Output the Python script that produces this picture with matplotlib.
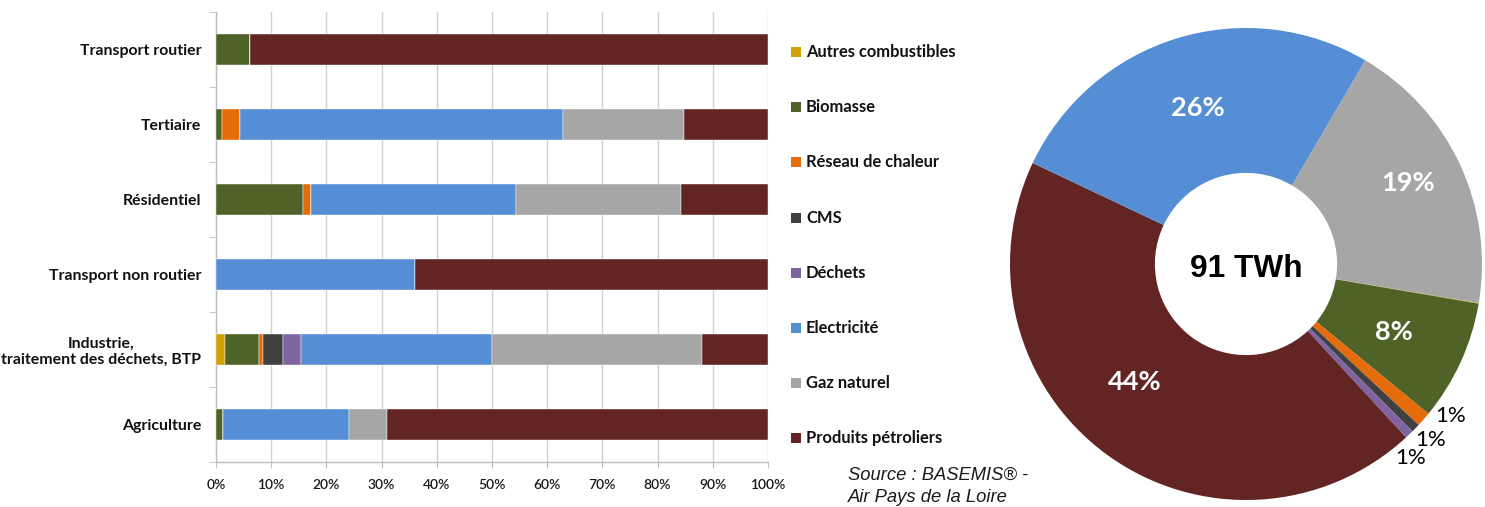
import numpy as np
import matplotlib
matplotlib.use("Agg")
import matplotlib.pyplot as plt
from matplotlib.patches import Rectangle
from matplotlib.ticker import FixedLocator, PercentFormatter

# --- Data -------------------------------------------------------------
sectors = ["Transport routier", "Tertiaire", "Résidentiel",
           "Transport non routier", "Industrie,\ntraitement des déchets, BTP",
           "Agriculture"]

energies = ["Autres combustibles", "Biomasse", "Réseau de chaleur", "CMS",
            "Déchets", "Electricité", "Gaz naturel", "Produits pétroliers"]

# share (%) of each energy in each sector's consumption
autres = [0.0, 0.0, 0.0, 0.0, 1.7, 0.0]
biomasse = [6.2, 1.0, 15.8, 0.0, 6.1, 1.3]
reseau = [0.0, 3.3, 1.5, 0.0, 0.7, 0.0]
cms = [0.0, 0.0, 0.0, 0.0, 3.6, 0.0]
dechets = [0.0, 0.0, 0.0, 0.0, 3.3, 0.0]
electricite = [0.0, 58.6, 37.1, 36.0, 34.6, 22.8]
gaz = [0.0, 21.9, 29.9, 0.0, 38.0, 6.9]
petrole = [93.8, 15.2, 15.7, 64.0, 12.0, 69.0]

# regional total, share (%) per energy
total_label = "91 TWh"
pie_energies = ["Autres combustibles", "Biomasse", "Réseau de chaleur", "CMS",
                "Déchets", "Produits pétroliers", "Electricité", "Gaz naturel"]
pie_shares = [0.05, 8.25, 1.0, 0.6, 0.6, 43.9, 26.4, 19.2]

x_ticks = [0, 10, 20, 30, 40, 50, 60, 70, 80, 90, 100]

colors = {
    "Autres combustibles": "#D4A00A",
    "Biomasse": "#4F6228",
    "Réseau de chaleur": "#E46C0A",
    "CMS": "#404040",
    "Déchets": "#8064A2",
    "Electricité": "#558ED5",
    "Gaz naturel": "#A6A6A6",
    "Produits pétroliers": "#632523",
}

series = [autres, biomasse, reseau, cms, dechets, electricite, gaz, petrole]

# --- Figure -----------------------------------------------------------
W, H = 1485, 507
fig = plt.figure(figsize=(W / 100, H / 100), dpi=100)
fig.patch.set_facecolor("white")

def fx(px):
    return px / W

def fy(py):
    return 1 - py / H

# Stacked horizontal bars
ax = fig.add_axes([fx(216), fy(462), fx(768) - fx(216), (462 - 12) / H])
y = np.arange(len(sectors))
left = np.zeros(len(sectors))
for name, vals in zip(energies, series):
    vals = np.asarray(vals)
    ax.barh(y, vals, left=left, height=0.41, color=colors[name],
            edgecolor="white", linewidth=0.3, zorder=3)
    left += vals

ax.set_xlim(0, 100)
ax.set_ylim(len(sectors) - 0.5, -0.5)
ax.xaxis.set_major_locator(FixedLocator(x_ticks))
ax.xaxis.set_major_formatter(PercentFormatter(decimals=0))
ax.grid(axis="x", color="#D0D0D0", linewidth=1.0, zorder=0)
for s in ["top", "right"]:
    ax.spines[s].set_visible(False)
for s in ["left", "bottom"]:
    ax.spines[s].set_color("#BFBFBF")
    ax.spines[s].set_linewidth(1.0)
ax.tick_params(axis="x", length=4, color="#BFBFBF", pad=8,
               labelsize=10, labelcolor="#1a1a1a")
for lab in ax.get_xticklabels():
    lab.set_fontfamily("Lato")
    lab.set_fontweight("semibold")

ax.set_yticks(y)
ax.set_yticklabels(sectors, fontfamily="Lato", fontweight="bold",
                   fontsize=11.4, color="#111111")
ax.set_yticks(np.arange(len(sectors) + 1) - 0.5, minor=True)
ax.tick_params(axis="y", which="major", length=0, pad=10.5)
ax.tick_params(axis="y", which="minor", length=5, color="#BFBFBF")
for lab in ax.get_yticklabels():
    lab.set_multialignment("center")

# Legend
leg_y0, leg_dy = 52.3, 55.07
for i, name in enumerate(energies):
    yc = leg_y0 + i * leg_dy
    fig.add_artist(Rectangle((fx(791), fy(yc + 5)), fx(10), 10 / H,
                             transform=fig.transFigure,
                             facecolor=colors[name], edgecolor="none"))
    fig.text(fx(806), fy(yc), name, fontfamily="Lato", fontweight="bold",
             fontsize=11.9, color="#111111", va="center", ha="left")

# Source
fig.text(fx(848), fy(475), "Source : BASEMIS® -", fontfamily="Liberation Sans",
         style="italic", fontsize=13.2, color="#1a1a1a", va="center")
fig.text(fx(848), fy(497), "Air Pays de la Loire", fontfamily="Liberation Sans",
         style="italic", fontsize=13.2, color="#1a1a1a", va="center")

# Doughnut
cx, cy, R = 1246, 264, 236
pax = fig.add_axes([fx(cx - R), fy(cy + R), 2 * R / W, 2 * R / H])
wedges, _ = pax.pie(pie_shares, colors=[colors[n] for n in pie_energies],
                    startangle=-9.5, counterclock=False, radius=1.0,
                    wedgeprops=dict(width=1 - 0.386, linewidth=0))
pax.set_xlim(-1, 1)
pax.set_ylim(-1, 1)
pax.set_aspect("equal")
pax.axis("off")

# label placement: (radius, angular shift in degrees)
inner_pos = {"Gaz naturel": (0.77, 1.5), "Produits pétroliers": (0.69, -7.0)}
outer_shift = {"Réseau de chaleur": 4.5, "CMS": 0.5, "Déchets": -3.5}
for w, name, share in zip(wedges, pie_energies, pie_shares):
    pct = int(round(share))
    if pct < 1:
        continue
    mid = (w.theta1 + w.theta2) / 2
    if share >= 5:
        r, da = inner_pos.get(name, (0.69, 0.0))
        a = np.deg2rad(mid + da)
        pax.text(r * np.cos(a), r * np.sin(a), f"{pct}%", ha="center",
                 va="center", color="white", fontfamily="Lato",
                 fontweight="bold", fontsize=19.5)
    else:
        a = np.deg2rad(mid + outer_shift.get(name, 0))
        pax.text(1.08 * np.cos(a), 1.08 * np.sin(a), f"{pct}%", ha="center",
                 va="center", color="black", fontfamily="Lato",
                 fontsize=16, clip_on=False)

pax.text(0, -0.02, total_label, ha="center", va="center",
         fontfamily="Liberation Sans", fontweight="bold", fontsize=22.8,
         color="black")

fig.savefig("out.png", dpi=100, facecolor="white")
